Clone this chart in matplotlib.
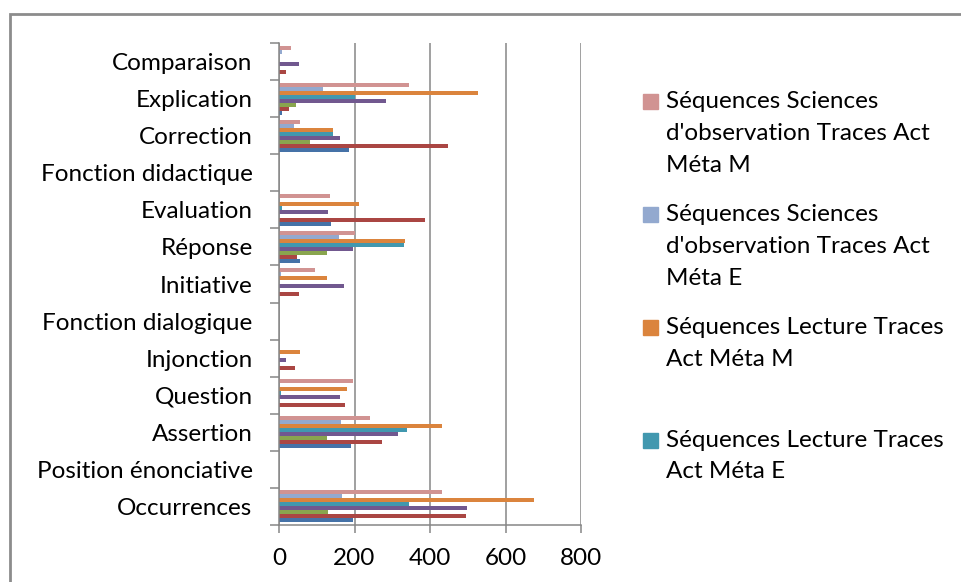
import matplotlib
matplotlib.use("Agg")
import matplotlib.pyplot as plt
from matplotlib.patches import Rectangle
import numpy as np

plt.rcParams['font.family'] = ['Lato', 'DejaVu Sans']

# categories from bottom to top, as Excel draws them
categories = ["Occurrences", "Position énonciative", "Assertion", "Question",
              "Injonction", "Fonction dialogique", "Initiative", "Réponse",
              "Evaluation", "Fonction didactique", "Correction", "Explication",
              "Comparaison"]

serie1 = [195, 0, 192, 0, 0, 0, 0, 55, 137, 0, 185, 7, 0]
serie2 = [495, 0, 273, 174, 42, 0, 52, 49, 388, 0, 448, 26, 18]
serie3 = [130, 0, 127, 0, 0, 0, 0, 127, 0, 0, 83, 45, 0]
serie4 = [498, 0, 314, 161, 18, 0, 171, 195, 131, 0, 161, 283, 52]
lecture_e = [345, 0, 338, 4, 0, 0, 0, 331, 7, 0, 144, 202, 0]
lecture_m = [675, 0, 433, 181, 56, 0, 127, 335, 212, 0, 144, 526, 0]
sciences_e = [167, 0, 165, 0, 0, 0, 4, 158, 0, 0, 39, 117, 7]
sciences_m = [433, 0, 240, 195, 0, 0, 96, 202, 134, 0, 56, 344, 32]

series = [serie1, serie2, serie3, serie4, lecture_e, lecture_m, sciences_e, sciences_m]
colors = ["#4572A7", "#AA4643", "#89A54E", "#71588F",
          "#4198AF", "#DB843D", "#93A9CF", "#D19392"]

# only these four entries are visible in the legend (top to bottom)
legend_labels = ["Séquences Sciences\nd'observation Traces Act\nMéta M",
                 "Séquences Sciences\nd'observation Traces Act\nMéta E",
                 "Séquences Lecture Traces\nAct Méta M",
                 "Séquences Lecture Traces\nAct Méta E"]
legend_colors = [colors[7], colors[6], colors[5], colors[4]]

W, H = 961, 582
fs = 17.5
fig = plt.figure(figsize=(W / 100, H / 100), dpi=100)
ax = fig.add_axes([279 / W, 1 - 524.7 / H, 302 / W, 481.4 / H])

n = len(series)
group = 0.85
h = group / n
y = np.arange(len(categories))
for j, (vals, c) in enumerate(zip(series, colors)):
    ax.barh(y - group / 2 + (j + 0.5) * h, vals, height=h, color=c, linewidth=0)

grid_c = "#868686"
ax.set_xlim(0, 800)
ax.set_ylim(-0.5, len(categories) - 0.5)
ax.set_xticks([0, 200, 400, 600, 800])
ax.xaxis.grid(True, color=grid_c, linewidth=1.1)
ax.set_axisbelow(True)
ax.tick_params(axis='x', length=6, width=1.1, color=grid_c, labelsize=fs, pad=11)

ax.set_yticks(y)
ax.set_yticklabels(categories)
ax.set_yticks(np.arange(-0.5, len(categories), 1), minor=True)
ax.tick_params(axis='y', which='major', length=0, labelsize=fs, pad=19)
ax.tick_params(axis='y', which='minor', length=6.5, width=1.1, color=grid_c)

for s in ['top', 'right']:
    ax.spines[s].set_visible(False)
for s in ['left', 'bottom']:
    ax.spines[s].set_color(grid_c)
    ax.spines[s].set_linewidth(1.1)

# legend drawn by hand, one line of text at a time
for k, (lab, c) in enumerate(zip(legend_labels, legend_colors)):
    y0 = 101.7 + k * 112.8
    fig.patches.append(Rectangle((643 / W, 1 - (y0 + 7.5) / H), 15 / W, 15 / H,
                                 transform=fig.transFigure, color=c))
    for i, line in enumerate(lab.split("\n")):
        fig.text(665.5 / W, 1 - (y0 + i * 31.8) / H, line, fontsize=fs,
                 va='center', ha='left', color="#000000")

# outer chart frame
fig.patches.append(Rectangle((10 / W, -0.1), 1.2, 1 - 14 / H + 0.1,
                             transform=fig.transFigure, fill=False,
                             edgecolor="#8C8C8C", linewidth=2))

fig.savefig("out.png", dpi=100)
